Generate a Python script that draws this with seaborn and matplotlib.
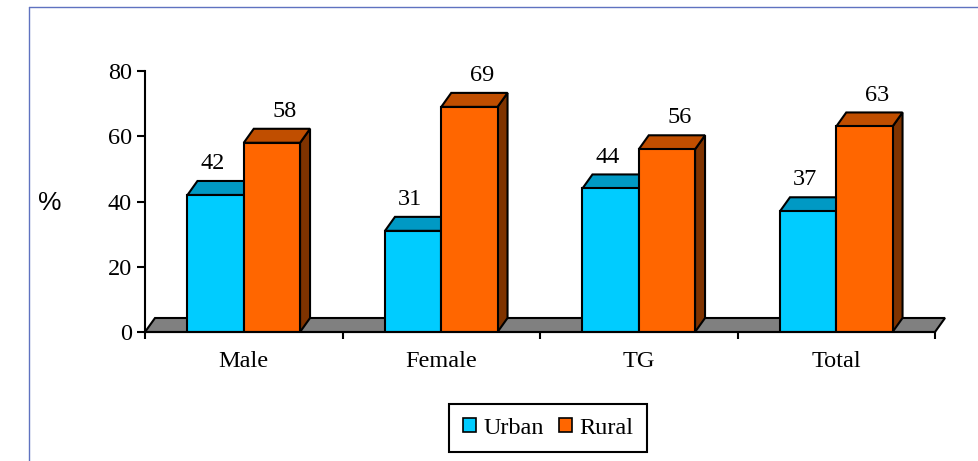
import numpy as np
import pandas as pd
import matplotlib.pyplot as plt
from matplotlib.patches import Polygon, Patch
from matplotlib.lines import Line2D
import seaborn as sns

# data
groups = ['Male', 'Female', 'TG', 'Total']
areas = ['Urban', 'Rural']
urban = [42, 31, 44, 37]
rural = [58, 69, 56, 63]
yticks = [0, 20, 40, 60, 80]

front_colors = {'Urban': '#00CCFF', 'Rural': '#FF6600'}
top_colors = {'Urban': '#0099C4', 'Rural': '#C04E00'}
side_colors = {'Urban': '#007799', 'Rural': '#7F3300'}

df = pd.DataFrame({
    'group': groups * 2,
    'area': ['Urban'] * len(groups) + ['Rural'] * len(groups),
    'pct': urban + rural,
})

sns.set_style('white')
plt.rcParams['font.family'] = ['Liberation Serif', 'DejaVu Serif']
plt.rcParams['text.color'] = 'black'
plt.rcParams['xtick.color'] = 'black'
plt.rcParams['ytick.color'] = 'black'
plt.rcParams['axes.labelcolor'] = 'black'

W, H = 979, 461
fig = plt.figure(figsize=(W / 100, H / 100), dpi=100)
ax = fig.add_axes([145 / W, 129 / H, 790 / W, 261 / H])

sns.barplot(data=df, x='group', y='pct', hue='area', hue_order=areas,
            palette=front_colors, width=0.57, saturation=1, edgecolor='black',
            linewidth=1.5, legend=False, ax=ax, zorder=3)

ax.set_xlim(-0.5, len(groups) - 0.5)
ax.set_ylim(0, 80)

# 3d depth, in data units (about 10px right, 14px up)
dx = 10 / 790 * len(groups)
dy = 14 / 261 * 80

floor = Polygon([(-0.5, 0), (len(groups) - 0.5, 0), (len(groups) - 0.5 + dx, dy), (-0.5 + dx, dy)],
                closed=True, facecolor='#808080', edgecolor='black', lw=1.5, zorder=1, clip_on=False)
ax.add_patch(floor)

label_dx = {'Urban': -2.2, 'Rural': 9.0}  # points
for area, cont in zip(areas, ax.containers):
    for bar in cont:
        x0, w, v = bar.get_x(), bar.get_width(), bar.get_height()
        x1 = x0 + w
        top = Polygon([(x0, v), (x1, v), (x1 + dx, v + dy), (x0 + dx, v + dy)], closed=True,
                      facecolor=top_colors[area], edgecolor='black', lw=1.5, zorder=2, clip_on=False)
        side = Polygon([(x1, 0), (x1, v), (x1 + dx, v + dy), (x1 + dx, dy)], closed=True,
                       facecolor=side_colors[area], edgecolor='black', lw=1.5, zorder=2, clip_on=False)
        ax.add_patch(side)
        ax.add_patch(top)
        ax.annotate(f'{v:.0f}', (x0 + w / 2, v + dy), xytext=(label_dx[area], 12.5),
                    textcoords='offset points', ha='center', va='center', fontsize=17.5)

for s in ['top', 'right']:
    ax.spines[s].set_visible(False)
for s in ['left', 'bottom']:
    ax.spines[s].set_color('black')
    ax.spines[s].set_linewidth(1.5)
    ax.spines[s].set_zorder(4)

ax.set_yticks(yticks)
ax.tick_params(axis='y', left=True, direction='out', length=5.8, width=1.5,
               color='black', labelsize=17.5, pad=3.5)
ax.set_xticks(np.arange(-0.5, len(groups)), [''] * (len(groups) + 1))
ax.set_xticks(range(len(groups)), groups, minor=True)
ax.tick_params(axis='x', which='major', bottom=True, direction='out', length=5, width=1.5, color='black')
ax.tick_params(axis='x', which='minor', bottom=True, length=0, labelsize=17.5, pad=14)
ax.set_xlabel('')
ax.set_ylabel('%', rotation=0, family=['Liberation Sans', 'DejaVu Sans'], fontsize=19,
              ha='center', va='center')
ax.yaxis.set_label_coords((50 - 145) / 790, (332 - 203) / 261)

handles = [Patch(facecolor=front_colors[a], edgecolor='black', lw=1.2) for a in areas]
leg = fig.legend(handles, areas, loc='center', bbox_to_anchor=(548 / W, 1 - 428 / H), ncol=2,
                 frameon=True, fancybox=False, edgecolor='black', framealpha=1,
                 handlelength=0.55, handleheight=0.55, handletextpad=0.3, columnspacing=0.6,
                 borderpad=0.55, borderaxespad=0, fontsize=17.5)
leg.get_frame().set_linewidth(1.5)

# outer frame of the original chart area
frame_color = '#5F72C0'
fig.add_artist(Line2D([29 / W, 1], [1 - 7 / H, 1 - 7 / H], color=frame_color, lw=1, transform=fig.transFigure))
fig.add_artist(Line2D([29 / W, 29 / W], [0, 1 - 7 / H], color=frame_color, lw=1, transform=fig.transFigure))

fig.savefig('out.png', dpi=100)
